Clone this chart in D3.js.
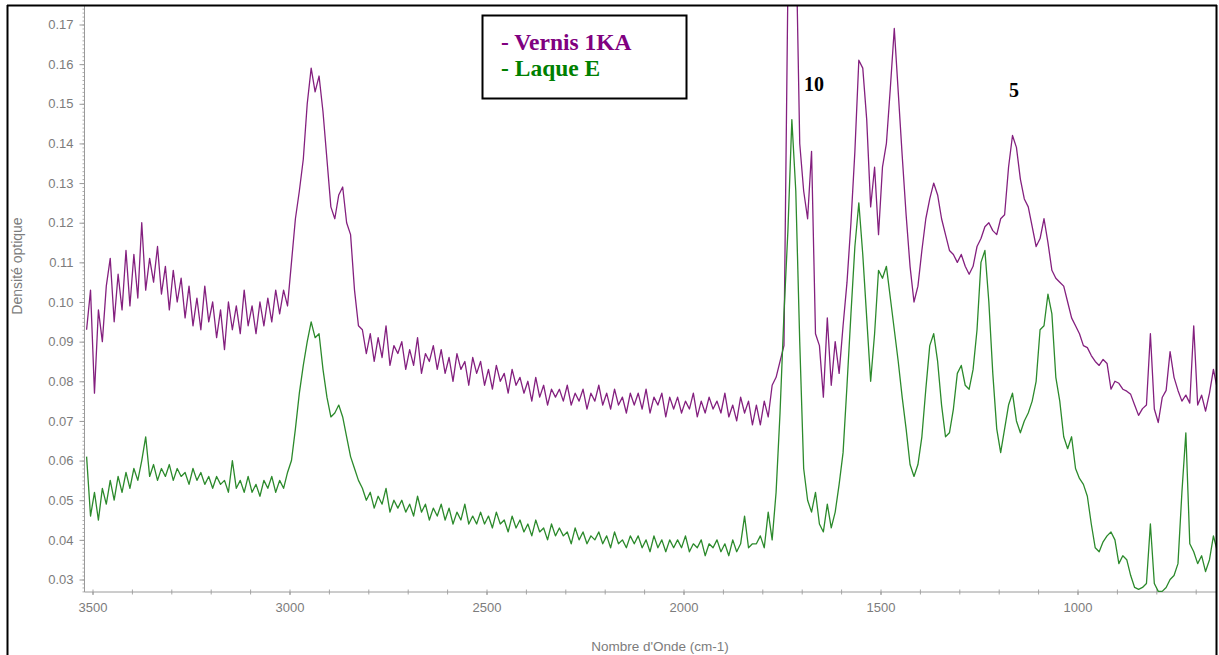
<!DOCTYPE html>
<html>
<head>
<meta charset="utf-8">
<script src="https://cdn.jsdelivr.net/npm/d3@7"></script>
<style>
  html, body { margin: 0; padding: 0; background: #fff; }
  svg { display: block; }
</style>
</head>
<body>
<svg id="chart" width="1219" height="655"></svg>
<script>
// Wavenumber grid (cm-1), 10 cm-1 step from 3515 down to 645
const wavenumbers = d3.range(3515, 640, -10);

// Optical density, varnish "Vernis 1KA"
const vernis1KA = [
  0.093, 0.103, 0.077, 0.098, 0.090, 0.104, 0.111, 0.095, 0.107, 0.098,
  0.113, 0.099, 0.112, 0.101, 0.120, 0.103, 0.111, 0.105, 0.114, 0.102,
  0.109, 0.098, 0.108, 0.100, 0.106, 0.096, 0.104, 0.094, 0.101, 0.093,
  0.104, 0.095, 0.100, 0.091, 0.098, 0.088, 0.100, 0.093, 0.099, 0.092,
  0.103, 0.094, 0.099, 0.092, 0.100, 0.094, 0.101, 0.095, 0.103, 0.097,
  0.103, 0.099, 0.110, 0.121, 0.128, 0.136, 0.150, 0.159, 0.153, 0.157,
  0.148, 0.136, 0.124, 0.121, 0.127, 0.129, 0.120, 0.117, 0.103, 0.094,
  0.093, 0.087, 0.092, 0.085, 0.091, 0.086, 0.094, 0.084, 0.089, 0.087,
  0.090, 0.083, 0.088, 0.084, 0.091, 0.082, 0.087, 0.085, 0.089, 0.083,
  0.088, 0.082, 0.086, 0.080, 0.087, 0.083, 0.085, 0.079, 0.086, 0.082,
  0.085, 0.079, 0.083, 0.078, 0.084, 0.080, 0.082, 0.077, 0.083, 0.079,
  0.081, 0.077, 0.080, 0.075, 0.081, 0.076, 0.079, 0.074, 0.078, 0.076,
  0.078, 0.075, 0.079, 0.074, 0.077, 0.075, 0.078, 0.073, 0.077, 0.075,
  0.079, 0.074, 0.077, 0.073, 0.078, 0.074, 0.076, 0.072, 0.077, 0.074,
  0.077, 0.073, 0.078, 0.072, 0.076, 0.074, 0.077, 0.071, 0.076, 0.073,
  0.076, 0.072, 0.075, 0.073, 0.077, 0.071, 0.075, 0.072, 0.076, 0.073,
  0.075, 0.072, 0.077, 0.071, 0.074, 0.070, 0.076, 0.072, 0.075, 0.069,
  0.074, 0.069, 0.075, 0.071, 0.079, 0.081, 0.085, 0.089, 0.180, 0.215,
  0.195, 0.140, 0.128, 0.121, 0.138, 0.092, 0.089, 0.076, 0.096, 0.079,
  0.090, 0.082, 0.094, 0.105, 0.120, 0.138, 0.161, 0.159, 0.146, 0.124,
  0.134, 0.117, 0.134, 0.140, 0.154, 0.169, 0.153, 0.137, 0.122, 0.109,
  0.100, 0.104, 0.113, 0.121, 0.126, 0.130, 0.127, 0.121, 0.117, 0.113,
  0.112, 0.110, 0.112, 0.109, 0.107, 0.109, 0.114, 0.116, 0.119, 0.120,
  0.118, 0.117, 0.121, 0.122, 0.134, 0.142, 0.139, 0.131, 0.126, 0.124,
  0.119, 0.114, 0.116, 0.121, 0.115, 0.108, 0.106, 0.105, 0.104, 0.100,
  0.096, 0.094, 0.092, 0.089, 0.0885, 0.0865, 0.085, 0.084, 0.0855, 0.0845,
  0.078, 0.080, 0.0795, 0.078, 0.0775, 0.0767, 0.074, 0.0714, 0.0731, 0.074,
  0.092, 0.073, 0.0696, 0.0759, 0.0777, 0.0875, 0.081, 0.0777, 0.075, 0.0765,
  0.0745, 0.094, 0.074, 0.0765, 0.0725, 0.077, 0.083, 0.078
];

// Optical density, lacquer "Laque E"
const laqueE = [
  0.061, 0.046, 0.052, 0.045, 0.053, 0.049, 0.055, 0.050, 0.056, 0.052,
  0.057, 0.053, 0.058, 0.055, 0.060, 0.066, 0.056, 0.059, 0.055, 0.058,
  0.056, 0.059, 0.055, 0.058, 0.056, 0.057, 0.054, 0.058, 0.055, 0.057,
  0.054, 0.056, 0.053, 0.056, 0.054, 0.055, 0.052, 0.060, 0.053, 0.055,
  0.052, 0.056, 0.052, 0.054, 0.051, 0.055, 0.053, 0.056, 0.052, 0.055,
  0.053, 0.057, 0.060, 0.068, 0.077, 0.084, 0.090, 0.095, 0.091, 0.092,
  0.083, 0.076, 0.071, 0.072, 0.074, 0.071, 0.066, 0.061, 0.058, 0.055,
  0.053, 0.050, 0.052, 0.048, 0.051, 0.049, 0.053, 0.047, 0.050, 0.048,
  0.050, 0.047, 0.049, 0.046, 0.051, 0.047, 0.049, 0.045, 0.048, 0.046,
  0.049, 0.045, 0.048, 0.044, 0.047, 0.045, 0.049, 0.044, 0.046, 0.044,
  0.047, 0.044, 0.046, 0.043, 0.047, 0.044, 0.045, 0.042, 0.046, 0.043,
  0.045, 0.042, 0.044, 0.041, 0.045, 0.042, 0.043, 0.040, 0.044, 0.041,
  0.043, 0.041, 0.042, 0.039, 0.043, 0.040, 0.042, 0.039, 0.041, 0.040,
  0.042, 0.039, 0.041, 0.038, 0.042, 0.039, 0.040, 0.038, 0.041, 0.039,
  0.041, 0.038, 0.040, 0.037, 0.041, 0.038, 0.040, 0.037, 0.040, 0.038,
  0.040, 0.038, 0.041, 0.037, 0.039, 0.038, 0.040, 0.036, 0.039, 0.038,
  0.040, 0.037, 0.039, 0.036, 0.040, 0.037, 0.039, 0.046, 0.038, 0.039,
  0.039, 0.041, 0.038, 0.047, 0.040, 0.052, 0.072, 0.097, 0.118, 0.146,
  0.128, 0.090, 0.058, 0.050, 0.047, 0.052, 0.044, 0.042, 0.049, 0.043,
  0.047, 0.054, 0.062, 0.079, 0.097, 0.114, 0.125, 0.112, 0.096, 0.080,
  0.092, 0.108, 0.106, 0.109, 0.101, 0.093, 0.085, 0.076, 0.068, 0.059,
  0.056, 0.059, 0.066, 0.078, 0.089, 0.092, 0.085, 0.074, 0.066, 0.067,
  0.073, 0.082, 0.084, 0.079, 0.078, 0.083, 0.093, 0.110, 0.113, 0.100,
  0.082, 0.068, 0.062, 0.068, 0.074, 0.077, 0.070, 0.067, 0.070, 0.072,
  0.075, 0.080, 0.093, 0.094, 0.102, 0.097, 0.081, 0.075, 0.066, 0.063,
  0.066, 0.058, 0.0555, 0.054, 0.051, 0.044, 0.038, 0.037, 0.0395, 0.041,
  0.042, 0.040, 0.034, 0.036, 0.035, 0.031, 0.028, 0.0275, 0.028, 0.029,
  0.044, 0.029, 0.027, 0.027, 0.028, 0.030, 0.031, 0.034, 0.052, 0.067,
  0.039, 0.037, 0.034, 0.036, 0.032, 0.035, 0.041, 0.037
];

const xTickValues = [3500, 3000, 2500, 2000, 1500, 1000];
const yTickValues = [0.03, 0.04, 0.05, 0.06, 0.07, 0.08, 0.09, 0.10,
                     0.11, 0.12, 0.13, 0.14, 0.15, 0.16, 0.17];

const seriesNames = ["- Vernis 1KA", "- Laque E"];
const seriesColors = ["#84207f", "#2c8a2c"];
// band numbers written above the spectra (wavenumber, optical density of the baseline)
const peakLabels = [{ text: "10", at: 1694, od: 0.1532 }, { text: "5", at: 1174, od: 0.1517 }];

// ---- layout ----
const svg = d3.select("#chart");
const plot = { left: 84.5, right: 1216, top: 6, bottom: 592 };

const x = d3.scaleLinear().domain([3500, 1000]).range([92.5, 1077.5]);
const y = d3.scaleLinear().domain([0.03, 0.17]).range([579.5, 24.5]);

const axisGrey = "#9a9a9a";
const labelGrey = "#7c7c7c";
const labelFont = "'Liberation Sans', Arial, sans-serif";

svg.append("rect").attr("width", 1219).attr("height", 655).attr("fill", "#fff");

// ---- y axis ----
const minorY = d3.range(27, 175, 1).map(d => d / 1000);
svg.append("g")
  .attr("transform", `translate(${plot.left},0)`)
  .call(d3.axisLeft(y).tickValues(minorY).tickSize(2).tickFormat(""))
  .call(g => g.select(".domain").remove())
  .call(g => g.selectAll(".tick line").attr("stroke", "#b0b0b0"));

const yAxis = svg.append("g")
  .attr("transform", `translate(${plot.left},0)`)
  .call(d3.axisLeft(y).tickValues(yTickValues).tickSize(5).tickPadding(6)
        .tickFormat(d3.format(".2f")));
yAxis.select(".domain").remove();
yAxis.selectAll(".tick line").attr("stroke", axisGrey);
yAxis.selectAll(".tick text")
  .attr("fill", labelGrey).attr("font-family", labelFont).attr("font-size", 13);

svg.append("line")
  .attr("x1", plot.left).attr("x2", plot.left)
  .attr("y1", plot.top).attr("y2", plot.bottom)
  .attr("stroke", axisGrey).attr("stroke-width", 1);

// ---- x axis ----
const minorX = d3.range(3500, 600, -100);
svg.append("g")
  .attr("transform", `translate(0,${plot.bottom - 2.5})`)
  .call(d3.axisBottom(x).tickValues(minorX).tickSize(5).tickFormat(""))
  .call(g => g.select(".domain").remove())
  .call(g => g.selectAll(".tick line").attr("stroke", "#a8a8a8"));

const xAxis = svg.append("g")
  .attr("transform", `translate(0,${plot.bottom})`)
  .call(d3.axisBottom(x).tickValues(xTickValues).tickSize(3).tickPadding(8)
        .tickFormat(d3.format("d")));
xAxis.select(".domain").remove();
xAxis.selectAll(".tick line").attr("stroke", axisGrey);
xAxis.selectAll(".tick text")
  .attr("fill", labelGrey).attr("font-family", labelFont).attr("font-size", 13);

svg.append("line")
  .attr("x1", plot.left).attr("x2", plot.right)
  .attr("y1", plot.bottom).attr("y2", plot.bottom)
  .attr("stroke", axisGrey).attr("stroke-width", 1);

// axis titles
svg.append("text")
  .attr("transform", "translate(22,266) rotate(-90)")
  .attr("text-anchor", "middle")
  .attr("fill", labelGrey).attr("font-family", labelFont).attr("font-size", 14)
  .text("Densité optique");

svg.append("text")
  .attr("x", 660).attr("y", 651)
  .attr("text-anchor", "middle")
  .attr("fill", labelGrey).attr("font-family", labelFont).attr("font-size", 13.5)
  .text("Nombre d'Onde (cm-1)");

// ---- spectra ----
svg.append("clipPath").attr("id", "plot-clip")
  .append("rect")
  .attr("x", plot.left + 0.5).attr("y", plot.top)
  .attr("width", plot.right - plot.left).attr("height", plot.bottom - plot.top);

const line = d3.line()
  .x((d, i) => x(wavenumbers[i]))
  .y(d => y(d));

const spectra = svg.append("g").attr("clip-path", "url(#plot-clip)");
[vernis1KA, laqueE].forEach((series, k) => {
  spectra.append("path")
    .datum(series)
    .attr("fill", "none")
    .attr("stroke", seriesColors[k])
    .attr("stroke-width", 1.3)
    .attr("stroke-linejoin", "round")
    .attr("d", line);
});

// ---- band numbers ----
peakLabels.forEach(p => {
  svg.append("text")
    .attr("x", x(p.at)).attr("y", y(p.od))
    .attr("font-family", "'Liberation Serif', 'Times New Roman', serif")
    .attr("font-weight", "bold").attr("font-size", 20)
    .attr("fill", "#000")
    .text(p.text);
});

// ---- legend ----
const legend = svg.append("g");
legend.append("rect")
  .attr("x", 482.5).attr("y", 15.5).attr("width", 204).attr("height", 83)
  .attr("fill", "#fff").attr("stroke", "#000").attr("stroke-width", 2);
seriesNames.forEach((name, k) => {
  legend.append("text")
    .attr("x", 501).attr("y", 50 + k * 26)
    .attr("font-family", "'Liberation Serif', 'Times New Roman', serif")
    .attr("font-weight", "bold").attr("font-size", 23.5)
    .attr("fill", k === 0 ? "#800080" : "#008000")
    .text(name);
});

// ---- outer frame ----
const frame = svg.append("g").attr("stroke", "#000").attr("stroke-width", 2);
frame.append("line").attr("x1", 7).attr("x2", 1217).attr("y1", 5.5).attr("y2", 5.5);
frame.append("line").attr("x1", 7.5).attr("x2", 7.5).attr("y1", 5).attr("y2", 655);
frame.append("line").attr("x1", 1216.5).attr("x2", 1216.5).attr("y1", 5).attr("y2", 655);
</script>
</body>
</html>
